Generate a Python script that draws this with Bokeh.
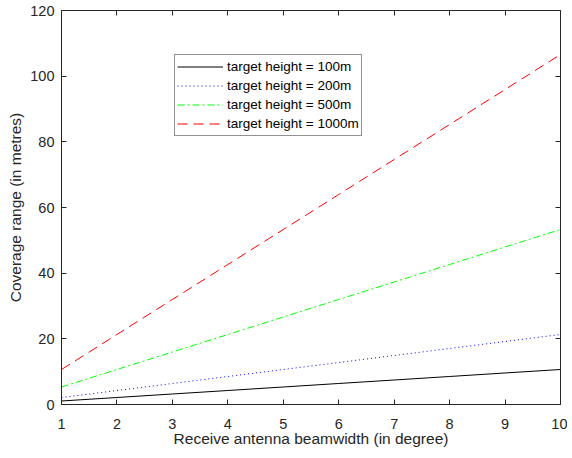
from bokeh.plotting import figure
from bokeh.models import FixedTicker, LinearAxis, Legend, LegendItem, Range1d
from bokeh.embed import file_html
from bokeh.resources import INLINE

beamwidth = [1, 2, 3, 4, 5, 6, 7, 8, 9, 10]
range_100 = [1.07, 2.13, 3.20, 4.26, 5.33, 6.40, 7.46, 8.53, 9.60, 10.66]
range_200 = [2.13, 4.26, 6.40, 8.53, 10.66, 12.79, 14.92, 17.06, 19.19, 21.32]
range_500 = [5.33, 10.66, 15.99, 21.32, 26.65, 31.98, 37.31, 42.64, 47.97, 53.30]
range_1000 = [10.66, 21.32, 31.98, 42.64, 53.30, 63.96, 74.62, 85.28, 95.94, 106.60]
labels = ["target height = 100m", "target height = 200m",
          "target height = 500m", "target height = 1000m"]
x_ticks = [1, 2, 3, 4, 5, 6, 7, 8, 9, 10]
y_ticks = [0, 20, 40, 60, 80, 100, 120]

FONT = "Liberation Sans"
AX = "#262626"

p = figure(frame_width=499, frame_height=394, output_backend="svg", toolbar_location=None,
           x_range=Range1d(1, 10), y_range=Range1d(0, 120),
           min_border_left=61, min_border_right=7, min_border_top=10, min_border_bottom=0)
p.xgrid.visible = False
p.ygrid.visible = False
p.outline_line_color = None
p.background_fill_color = "white"

def style(ax, ticks, show_labels=True):
    ax.ticker = FixedTicker(ticks=ticks)
    ax.major_tick_in = 5
    ax.major_tick_out = 0
    ax.minor_tick_line_color = None
    ax.axis_line_color = AX
    ax.major_tick_line_color = AX
    ax.major_label_text_font = FONT
    ax.major_label_text_font_size = "14.5px"
    ax.major_label_text_color = AX
    ax.axis_label_text_font = FONT
    ax.axis_label_text_font_size = "15.5px"
    ax.axis_label_text_font_style = "normal"
    ax.axis_label_text_color = AX
    if not show_labels:
        ax.major_label_text_font_size = "0px"
        ax.major_label_text_color = None
        ax.major_label_standoff = 0

style(p.xaxis[0], x_ticks)
style(p.yaxis[0], y_ticks)
p.xaxis[0].axis_label = "Receive antenna beamwidth (in degree)"
p.yaxis[0].axis_label = "Coverage range (in metres)"
p.xaxis[0].major_label_standoff = 14
p.yaxis[0].major_label_standoff = 7
p.xaxis[0].axis_label_standoff = -2
p.yaxis[0].axis_label_standoff = 3

top = LinearAxis()
style(top, x_ticks, False)
p.add_layout(top, "above")
right = LinearAxis()
style(right, y_ticks, False)
p.add_layout(right, "right")

r1 = p.line(beamwidth, range_100, line_color="black", line_width=1)
r2 = p.line(beamwidth, range_200, line_color="#0000ff", line_width=1, line_dash="1 3")
r3 = p.line(beamwidth, range_500, line_color="#00ff00", line_width=1, line_dash="7 3 2 3")
r4 = p.line(beamwidth, range_1000, line_color="#ff0000", line_width=1, line_dash="10 6")

legend = Legend(items=[LegendItem(label=l, renderers=[r]) for l, r in zip(labels, [r1, r2, r3, r4])],
                location=(113, 268))
legend.label_text_font = FONT
legend.label_text_font_size = "13.5px"
legend.label_text_color = "black"
legend.glyph_width = 46
legend.glyph_height = 19
legend.label_height = 19
legend.label_standoff = 4
legend.spacing = 0
legend.padding = 2
legend.margin = 0
legend.border_line_color = AX
legend.border_line_width = 1
legend.background_fill_alpha = 1
p.add_layout(legend, "center")

open("out.html", "w").write(file_html(p, INLINE))
